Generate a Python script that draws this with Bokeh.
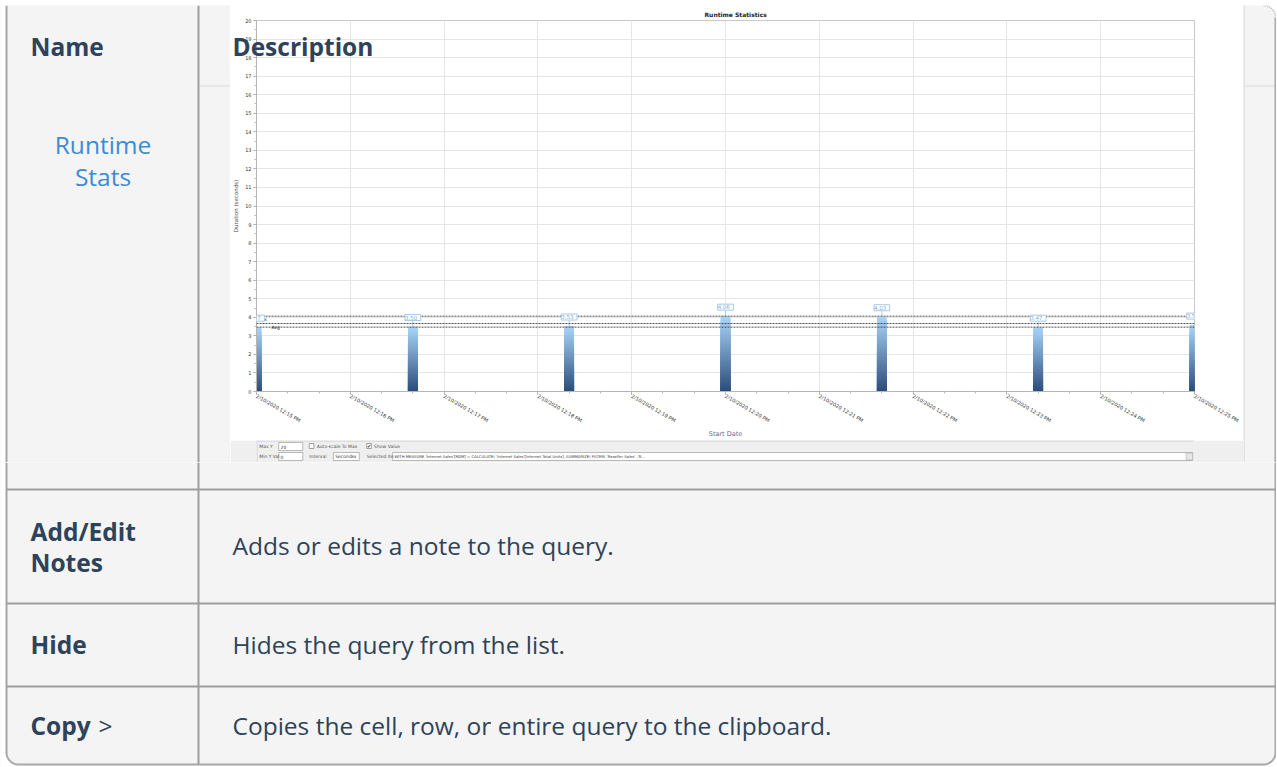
import numpy as np
import pandas as pd
from bokeh.plotting import figure
from bokeh.models import (ColumnDataSource, Range1d, FixedTicker, SingleIntervalTicker,
                          DatetimeTickFormatter, Span, Label, LabelSet)
from bokeh.layouts import row, column
from bokeh.core.properties import value
from bokeh.embed import file_html
from bokeh.resources import INLINE

# ------------------------------------------------------------------ data
start_times = ["2020-02-10 12:15:00", "2020-02-10 12:16:40", "2020-02-10 12:18:20",
               "2020-02-10 12:20:00", "2020-02-10 12:21:40", "2020-02-10 12:23:20",
               "2020-02-10 12:25:00"]
durations = [3.47, 3.50, 3.53, 4.06, 4.03, 3.47, 3.58]
x_start = "2020-02-10 12:15:00"
x_end = "2020-02-10 12:25:00"
y_min, y_max = 0, 20
chart_title = "Runtime Statistics"
y_title = "Duration (seconds)"
x_title = "Start Date"
ref_line_names = ["Max", "Avg"]

header_names = ["Name", "Description"]
row_name_lines = [["Runtime", "Stats"], ["Add/Edit", "Notes"], ["Hide"], ["Copy", ">"]]
row_descriptions = ["", "Adds or edits a note to the query.", "Hides the query from the list.",
                    "Copies the cell, row, or entire query to the clipboard."]

control_labels = ["Max Y", "Min Y Val", "Auto-scale To Max", "Show Value", "Interval", "Selected Ite"]
control_values = ["20", "0", "Seconds"]
query_text = ("WITH MEASURE 'Internet Sales'[M2M] = CALCULATE( 'Internet Sales'[Internet Total Units] "
              ",SUMMARIZE( FILTER( 'Reseller Sales' ,'R...")

# ------------------------------------------------------------------ styles
TXT = "#2e435a"
LINK = "#3d8bd5"
CELL = "#f4f4f4"
RULE = "#9d9d9d"
EDGE = "#a8a8a8"
FONT = "Open Sans"
SMALL = "DejaVu Sans"
FS = 24.5


def pix(x0, x1, y0, y1, bg=CELL, alpha=1.0):
    f = figure(width=x1 - x0, height=y1 - y0, x_range=Range1d(x0, x1), y_range=Range1d(y1, y0),
               output_backend="svg", toolbar_location=None, min_border=0,
               x_axis_location=None, y_axis_location=None,
               background_fill_color=bg, border_fill_color=bg,
               background_fill_alpha=alpha, border_fill_alpha=alpha, outline_line_color=None)
    f.grid.visible = False
    return f


def put(f, xs, ys, texts, size, color=TXT, bold=False, align="left", font=FONT):
    f.text(x=xs, y=ys, text=texts, text_font=value(font), text_font_size=f"{size}px",
           text_font_style="bold" if bold else "normal", text_color=color,
           text_align=align, text_baseline="middle")


# ------------------------------------------------------------------ top strip
S = pix(0, 1276, 0, 5, bg="white")
S.line([230, 1243], [4.5, 4.5], line_color="#d0d0d0", line_width=1)

# ------------------------------------------------------------------ left tile
L = pix(0, 230, 5, 462)
L.quad(left=[0], right=[5], top=[5], bottom=[462], fill_color="white", line_color=None)
L.line([6, 6], [5, 462], line_color=EDGE, line_width=2)
L.line([198, 198], [5, 462], line_color=RULE, line_width=2)
L.line([199, 230], [85.5, 85.5], line_color="#dadada", line_width=1)
L.line([230.5, 230.5], [5, 462], line_color="#cfcfcf", line_width=1)
put(L, [30], [45.5], [header_names[0]], FS, bold=True)
put(L, [102.5, 102.5], [143.5, 175.5], row_name_lines[0], FS, color=LINK, align="center")

# ------------------------------------------------------------------ right tile
R = pix(1243, 1276, 5, 462)
R.line([1243.5, 1243.5], [5, 462], line_color="#cfcfcf", line_width=1)
R.line([1244, 1275], [85.5, 85.5], line_color="#dadada", line_width=1)
phi = np.linspace(0, np.pi / 2, 16)
arc_x = 1263 + 12 * np.sin(phi)
arc_y = 17 - 12 * np.cos(phi)
R.patch(list(arc_x) + [1276, 1276], list(arc_y) + [17, 5], fill_color="white", line_color=None)
R.line(list(arc_x), list(arc_y), line_color="#b8b8b8", line_width=1.5, line_dash="1 1")
R.line([1275, 1275], [17, 462], line_color=EDGE, line_width=2)

# ------------------------------------------------------------------ chart tile
times = pd.to_datetime(start_times)
C = figure(width=1013, height=435, x_axis_type="datetime",
           x_range=Range1d(pd.Timestamp(x_start), pd.Timestamp(x_end)),
           y_range=Range1d(y_min, y_max),
           output_backend="svg", toolbar_location=None,
           min_border_left=24, min_border_right=49, min_border_top=15, min_border_bottom=48,
           border_fill_color="white", background_fill_color="white",
           outline_line_color="#c8c8c8")

C.title.text = chart_title
C.title.text_font = SMALL
C.title.text_font_size = "6px"
C.title.text_color = "#222222"
C.title.align = "left"
C.title.offset = 448
C.title.standoff = 6

# y axis
ya = C.yaxis[0]
ya.ticker = SingleIntervalTicker(interval=1, num_minor_ticks=2)
ya.major_label_text_font = SMALL
ya.major_label_text_font_size = "5px"
ya.major_label_text_color = "#333333"
ya.major_label_standoff = 2
ya.major_tick_out = 3
ya.major_tick_in = 0
ya.minor_tick_out = 2
ya.minor_tick_in = 0
ya.axis_line_color = "#b5b5b5"
ya.major_tick_line_color = "#999999"
ya.minor_tick_line_color = "#bbbbbb"
ya.axis_label = y_title
ya.axis_label_text_font = SMALL
ya.axis_label_text_font_size = "5.5px"
ya.axis_label_text_font_style = "normal"
ya.axis_label_text_color = "#444444"
ya.axis_label_standoff = 3
C.ygrid[0].ticker = ya.ticker
C.ygrid.grid_line_color = "#e6e6e6"

# x axis
tick_times = pd.date_range(x_start, x_end, freq="1min")
minor_times = pd.date_range(x_start, x_end, freq="20s")
xa = C.xaxis[0]
xa.ticker = FixedTicker(ticks=[t.value / 1e6 for t in tick_times],
                        minor_ticks=[t.value / 1e6 for t in minor_times])
fmt = "%-m/%d/%Y %-I:%M %p"
xa.formatter = DatetimeTickFormatter(milliseconds=fmt, seconds=fmt, minsec=fmt, minutes=fmt,
                                     hourmin=fmt, hours=fmt, days=fmt, months=fmt, years=fmt)
xa.major_label_orientation = -np.pi / 6
xa.major_label_text_font = SMALL
xa.major_label_text_font_size = "5px"
xa.major_label_text_color = "#333333"
xa.major_label_standoff = 1
xa.major_tick_out = 3
xa.major_tick_in = 0
xa.minor_tick_out = 2
xa.minor_tick_in = 0
xa.axis_line_color = "#b5b5b5"
xa.major_tick_line_color = "#999999"
xa.minor_tick_line_color = "#bbbbbb"
xa.axis_label = x_title
xa.axis_label_text_font = SMALL
xa.axis_label_text_font_size = "6.5px"
xa.axis_label_text_font_style = "normal"
xa.axis_label_text_color = "#5f7088"
xa.axis_label_standoff = 1
C.xgrid[0].ticker = xa.ticker
C.xgrid.grid_line_color = "#e6e6e6"

# gradient bars (stacked layers, light on top, dark at the bottom)
N = 40
dark = np.array([43, 76, 122])
light = np.array([170, 213, 249])
layers = {"x": [], "top": [], "color": []}
for j in range(N):
    frac = (N - j) / N
    c = dark + (light - dark) * ((N - j - 0.5) / N)
    col = "#%02x%02x%02x" % tuple(int(round(v)) for v in c)
    for t_i, d in zip(times, durations):
        layers["x"].append(t_i)
        layers["top"].append(d * frac)
        layers["color"].append(col)
bar_width_ms = 6200
C.vbar(x="x", top="top", bottom=0, width=bar_width_ms, fill_color="color", line_color=None,
       source=ColumnDataSource(layers))

# reference lines
max_v = max(durations)
avg_v = float(np.mean(durations))
min_v = min(durations)
x0_ms = pd.Timestamp(x_start).value / 1e6
for loc in [max_v, avg_v, min_v]:
    C.add_layout(Span(location=loc, dimension="width", line_color="#4d4d4d",
                      line_dash="2 1", line_width=1))
C.add_layout(Label(x=x0_ms, y=max_v, x_offset=1, y_offset=-1, text=ref_line_names[0],
                   text_font=SMALL, text_font_size="4.5px", text_color="#222222",
                   text_baseline="top"))
C.add_layout(Label(x=x0_ms, y=avg_v, x_offset=15, y_offset=-1, text=ref_line_names[1],
                   text_font=SMALL, text_font_size="4.5px", text_color="#222222",
                   text_baseline="top"))

# value call-outs
stem = 0.3
lab = ColumnDataSource(dict(x=times, y=durations, y1=[d + stem for d in durations],
                            text=[f" {d:.2f} " for d in durations]))
C.segment(x0="x", y0="y", x1="x", y1="y1", line_color="#a9c8e6", line_width=1, source=lab)
C.add_layout(LabelSet(x="x", y="y", text="text", source=lab, y_offset=6,
                      text_align="center", text_baseline="bottom",
                      text_font=value(SMALL), text_font_size="5.5px", text_color="#86abd2",
                      background_fill_color="white", border_line_color="#a9c8e6"))

# ------------------------------------------------------------------ controls tile
K = pix(230, 1243, 440, 462, bg="#efefef")
K.line([230, 1243], [440.5, 440.5], line_color="#d0d0d0", line_width=1)
K.line([230.5, 230.5], [440, 462], line_color="#cfcfcf", line_width=1)
K.quad(left=[254, 254, 313, 377], right=[280, 280, 341, 1241],
       top=[442, 452, 452, 452], bottom=[450, 460, 460, 460],
       fill_color="white", line_color="#a8a8a8", line_width=0.8)
K.quad(left=[287, 349], right=[292, 354], top=[443, 443], bottom=[448, 448],
       fill_color="white", line_color="#8a8a8a", line_width=0.8)
K.quad(left=[1234], right=[1241], top=[452.5], bottom=[459.5],
       fill_color="#e6e6e6", line_color="#b0b0b0", line_width=0.6)
put(K, [233, 233, 295, 357, 287, 349],
    [446, 456, 446, 446, 456, 456], control_labels, 4.5, color="#555555", font=SMALL)
put(K, [256, 256, 315], [446, 456, 456], control_values, 4.5, color="#333333", font=SMALL)
put(K, [351.5], [445.8], ["\u2714"], 5, color="#333333", align="center", font=SMALL)
put(K, [336.5], [456], ["\u2228"], 4.5, color="#333333", align="center", font=SMALL)
put(K, [379], [456], [query_text], 3.8, color="#333333", font=SMALL)

# ------------------------------------------------------------------ bottom tile
B = pix(0, 1276, 462, 766)
B.quad(left=[0], right=[5], top=[462], bottom=[766], fill_color="white", line_color=None)
B.quad(left=[0], right=[1276], top=[765], bottom=[766], fill_color="white", line_color=None)
ph = np.linspace(0, np.pi / 2, 16)
bl_x = 18 - 12 * np.cos(ph)
bl_y = 752 + 12 * np.sin(ph)
br_x = 1263 + 12 * np.cos(ph[::-1])
br_y = 752 + 12 * np.sin(ph[::-1])
B.patch(list(bl_x) + [18, 0, 0], list(bl_y) + [766, 766, 752], fill_color="white", line_color=None)
B.patch(list(br_x) + [1276, 1276, 1263], list(br_y) + [752, 766, 766],
        fill_color="white", line_color=None)
B.line([6, 6] + list(bl_x) + list(br_x) + [1275, 1275],
       [462, 752] + list(bl_y) + list(br_y) + [752, 462],
       line_color=EDGE, line_width=2)
for yy in [489, 603, 686]:
    B.line([6, 1275], [yy, yy], line_color=RULE, line_width=2)
B.line([198, 198], [462, 764], line_color=RULE, line_width=2)

put(B, [30, 30], [530.5, 561.5], row_name_lines[1], FS, bold=True)
put(B, [30], [644], row_name_lines[2], FS, bold=True)
put(B, [30], [725], [row_name_lines[3][0]], FS, bold=True)
put(B, [98], [725], [row_name_lines[3][1]], FS)
put(B, [232, 232, 232], [545, 644, 725], row_descriptions[1:], FS)

# ------------------------------------------------------------------ header over the screenshot
D = pix(230, 400, 28, 66, bg="white", alpha=0.0)
put(D, [232], [45.5], [header_names[1]], FS, bold=True)
D.styles = {"position": "absolute", "left": "230px", "top": "28px", "z-index": "10"}

layout = column(S, row(L, column(C, K), R), B, D)
open("out.html", "w").write(file_html(layout, INLINE))
